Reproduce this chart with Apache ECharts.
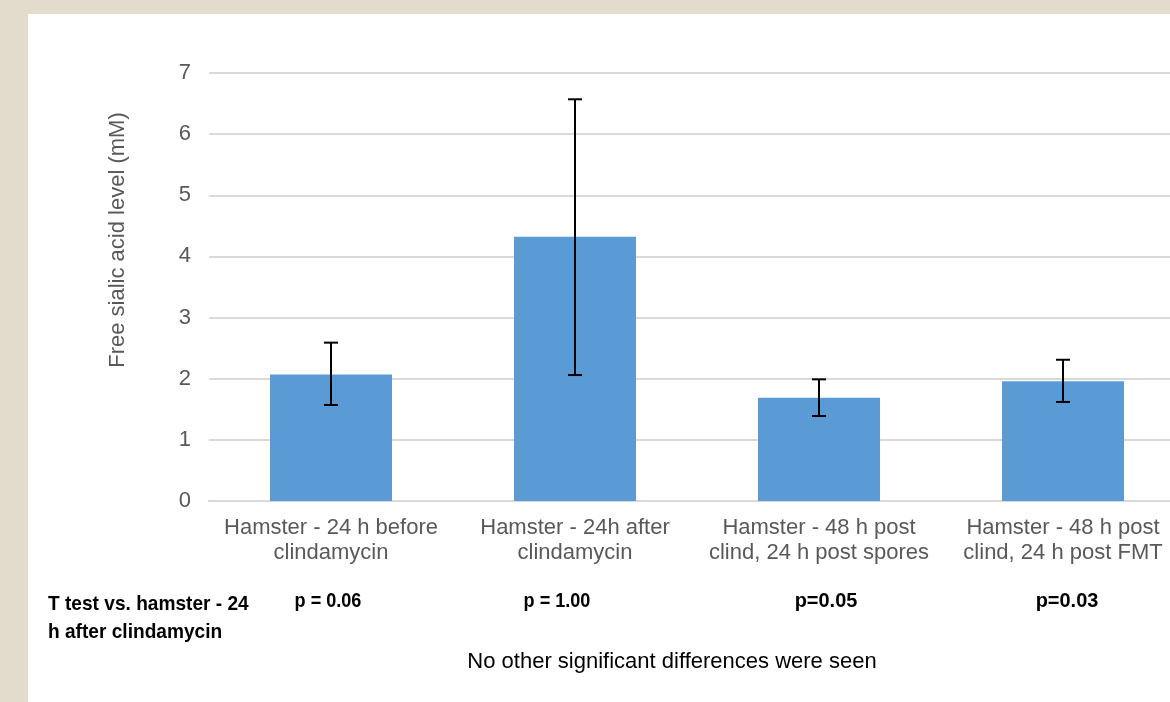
<!DOCTYPE html>
<html>
<head>
<meta charset="utf-8">
<script src="https://cdn.jsdelivr.net/npm/echarts@6/dist/echarts.min.js"></script>
<style>
  html, body { margin: 0; padding: 0; width: 1170px; height: 702px; overflow: hidden; background: #e3dbcc; }
  #chart { position: absolute; left: 28px; top: 14px; width: 1142px; height: 688px; background: #ffffff; }
</style>
</head>
<body>
<div id="chart"></div>
<script>
// Groups (x-axis categories)
const categories = [
  'Hamster - 24 h before\nclindamycin',
  'Hamster - 24h after\nclindamycin',
  'Hamster - 48 h post\nclind, 24 h post spores',
  'Hamster - 48 h post\nclind, 24 h post FMT'
];
// Mean free sialic acid (mM)
const meanValues = [2.07, 4.32, 1.69, 1.96];
// Error bar ends (mM)
const errLower = [1.57, 2.06, 1.39, 1.62];
const errUpper = [2.59, 6.57, 1.99, 2.31];
// Y-axis range
const yTicks = [0, 1, 2, 3, 4, 5, 6, 7];
// T-test annotations under each group
const pLabels = ['p = 0.06', 'p = 1.00', 'p=0.05', 'p=0.03'];
const testLabel = ['T test vs. hamster - 24', 'h after clindamycin'];
const footNote = 'No other significant differences were seen';
const yName = 'Free sialic acid level (mM)';

const FONT = '"Liberation Sans", Arial, sans-serif';
const chart = echarts.init(document.getElementById('chart'), null, { renderer: 'canvas' });

const errData = categories.map((c, i) => [i, errLower[i], errUpper[i]]);
const pX = [300, 529, 798, 1039];

// condensed bold annotation text
const boldText = (txt, x, y, align, sx) => ({
  type: 'text', x: x, y: y, scaleX: sx,
  style: { text: txt, x: 0, y: 0, fill: '#000', font: 'bold 21px ' + FONT, align: align, verticalAlign: 'middle' }
});

chart.setOption({
  animation: false,
  grid: { left: 181, width: 976, top: 59, bottom: 201, outerBoundsMode: 'none', containLabel: false },
  xAxis: {
    type: 'category',
    data: categories,
    axisTick: { show: false },
    axisLine: { lineStyle: { color: '#d9d9d9', width: 2 } },
    axisLabel: { color: '#595959', fontFamily: FONT, fontSize: 22, lineHeight: 25, margin: 14, interval: 0 }
  },
  yAxis: {
    type: 'value',
    min: yTicks[0], max: yTicks[yTicks.length - 1], interval: 1,
    axisLine: { show: false },
    axisTick: { show: false },
    axisLabel: { color: '#595959', fontFamily: FONT, fontSize: 22, margin: 18 },
    splitLine: { lineStyle: { color: '#d9d9d9', width: 2 } }
  },
  series: [
    {
      type: 'bar',
      data: meanValues,
      barWidth: '50%',
      itemStyle: { color: '#5b9bd5' }
    },
    {
      type: 'custom',
      data: errData,
      z: 10,
      renderItem: function (params, api) {
        const x = api.value(0);
        const lo = api.coord([x, api.value(1)]);
        const hi = api.coord([x, api.value(2)]);
        const hw = 7;
        const st = { stroke: '#000', lineWidth: 2 };
        return {
          type: 'group',
          children: [
            { type: 'line', shape: { x1: hi[0], y1: hi[1], x2: lo[0], y2: lo[1] }, style: st },
            { type: 'line', shape: { x1: hi[0] - hw, y1: hi[1], x2: hi[0] + hw, y2: hi[1] }, style: st },
            { type: 'line', shape: { x1: lo[0] - hw, y1: lo[1], x2: lo[0] + hw, y2: lo[1] }, style: st }
          ]
        };
      }
    }
  ],
  graphic: [
    {
      type: 'text', x: 90, y: 226, rotation: Math.PI / 2,
      style: { text: yName, fill: '#595959', font: '22px ' + FONT, align: 'center', verticalAlign: 'middle' }
    },
    boldText(testLabel[0], 20, 590, 'left', 0.91),
    boldText(testLabel[1], 20, 618, 'left', 0.91),
    ...pLabels.map((t, i) => boldText(t, pX[i], 587, 'center', t.indexOf(' ') >= 0 ? 0.86 : 0.95)),
    {
      type: 'text', x: 644, y: 648,
      style: { text: footNote, fill: '#000', font: '22px ' + FONT, align: 'center', verticalAlign: 'middle' }
    }
  ]
});
</script>
</body>
</html>
